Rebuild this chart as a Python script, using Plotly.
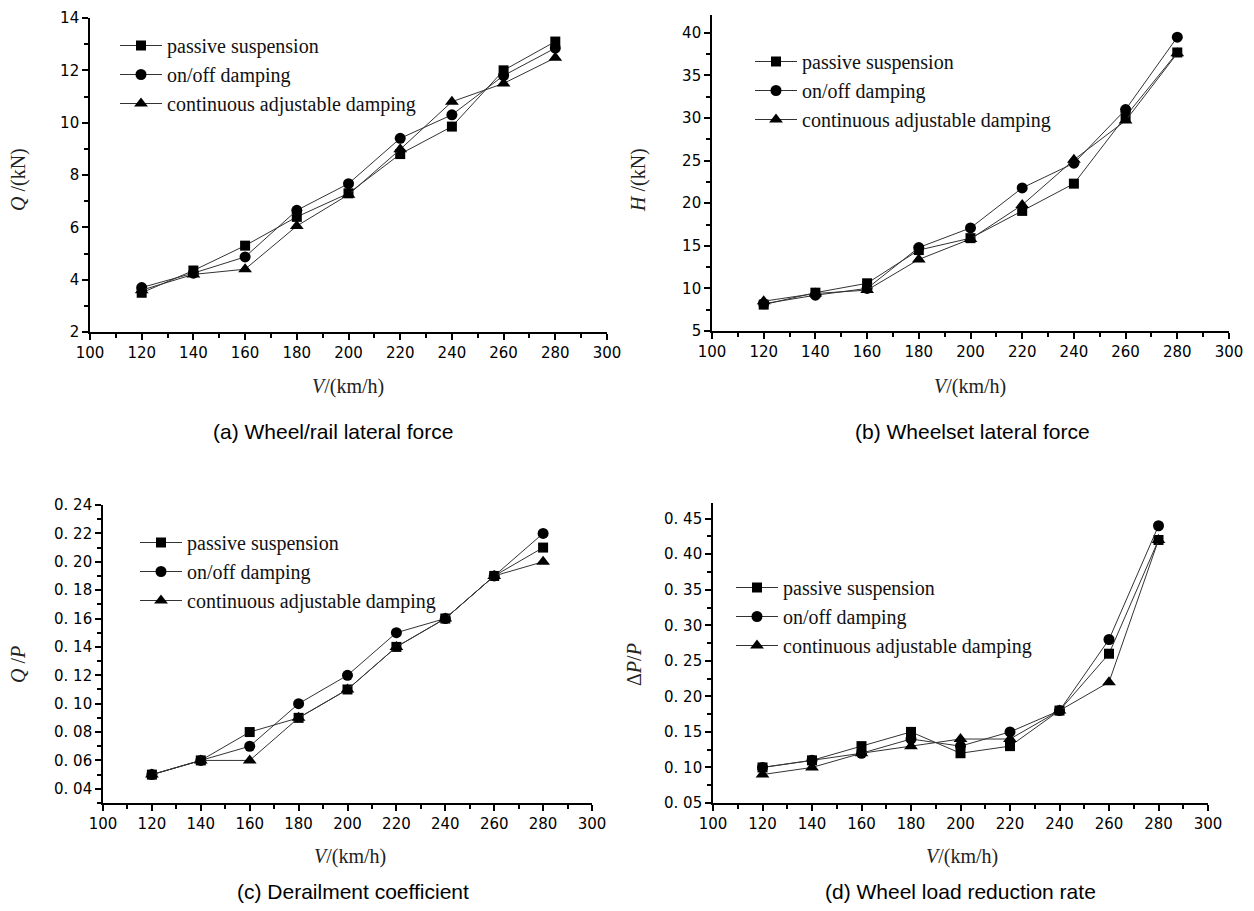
import plotly.graph_objects as go

# ---------------- data ----------------
speeds = [120, 140, 160, 180, 200, 220, 240, 260, 280]
series_names = ["passive suspension", "on/off damping", "continuous adjustable damping"]

a_passive = [3.5, 4.35, 5.3, 6.4, 7.3, 8.8, 9.85, 12.0, 13.1]
a_onoff = [3.7, 4.25, 4.87, 6.65, 7.67, 9.4, 10.3, 11.8, 12.85]
a_cont = [3.6, 4.2, 4.4, 6.05, 7.25, 8.98, 10.8, 11.5, 12.48]

b_passive = [8.1, 9.5, 10.6, 14.5, 15.9, 19.1, 22.3, 30.2, 37.7]
b_onoff = [8.2, 9.2, 10.0, 14.8, 17.1, 21.8, 24.7, 31.0, 39.5]
b_cont = [8.5, 9.4, 9.8, 13.4, 15.8, 19.8, 25.1, 29.7, 37.6]

c_passive = [0.05, 0.06, 0.08, 0.09, 0.11, 0.14, 0.16, 0.19, 0.21]
c_onoff = [0.05, 0.06, 0.07, 0.10, 0.12, 0.15, 0.16, 0.19, 0.22]
c_cont = [0.05, 0.06, 0.06, 0.09, 0.11, 0.14, 0.16, 0.19, 0.20]

d_passive = [0.10, 0.11, 0.13, 0.15, 0.12, 0.13, 0.18, 0.26, 0.42]
d_onoff = [0.10, 0.11, 0.12, 0.14, 0.13, 0.15, 0.18, 0.28, 0.44]
d_cont = [0.09, 0.10, 0.12, 0.13, 0.14, 0.14, 0.18, 0.22, 0.42]

x_ticks = [100, 120, 140, 160, 180, 200, 220, 240, 260, 280, 300]
a_ticks = [2, 4, 6, 8, 10, 12, 14]
b_ticks = [5, 10, 15, 20, 25, 30, 35, 40]
c_ticks = [0.04, 0.06, 0.08, 0.10, 0.12, 0.14, 0.16, 0.18, 0.20, 0.22, 0.24]
c_ticktext = ["0. 04", "0. 06", "0. 08", "0. 10", "0. 12", "0. 14", "0. 16", "0. 18", "0. 20", "0. 22", "0. 24"]
d_ticks = [0.05, 0.10, 0.15, 0.20, 0.25, 0.30, 0.35, 0.40, 0.45]
d_ticktext = ["0. 05", "0. 10", "0. 15", "0. 20", "0. 25", "0. 30", "0. 35", "0. 40", "0. 45"]

y_titles = ["<i>Q</i> /(kN)", "<i>H</i> /(kN)", "<i>Q</i> /<i>P</i>", "Δ<i>P</i>/<i>P</i>"]
x_title = "<i>V</i>/(km/h)"
captions = ["(a) Wheel/rail lateral force", "(b) Wheelset lateral force",
            "(c) Derailment coefficient", "(d) Wheel load reduction rate"]

# ---------------- layout helpers ----------------
# the page body has an 8px margin, so the figure is drawn at (8, 8) in the window
OFF = 8
W, H = 1254 - 2 * OFF, 911 - 2 * OFF


def px_x(p):
    return (p - OFF) / W


def px_y(p):
    return 1 - (p - OFF) / H


panels = [
    dict(vals=[a_passive, a_onoff, a_cont], xd=(90, 607), yd=(18, 332), yr=(2, 14),
         ytv=a_ticks, ytt=[str(v) for v in a_ticks], ymin=1, leg=(115, 26),
         ytitle=(18, 180), xtitle=(348, 386), cap=(333, 431)),
    dict(vals=[b_passive, b_onoff, b_cont], xd=(712, 1229), yd=(15, 331), yr=(5, 42.1),
         ytv=b_ticks, ytt=[str(v) for v in b_ticks], ymin=2.5, leg=(750, 42),
         ytitle=(638, 180), xtitle=(970, 386), cap=(972, 431)),
    dict(vals=[c_passive, c_onoff, c_cont], xd=(103, 592), yd=(505, 803), yr=(0.03, 0.24),
         ytv=c_ticks, ytt=c_ticktext, ymin=0.01, leg=(135, 523),
         ytitle=(18, 665), xtitle=(350, 856), cap=(353, 891)),
    dict(vals=[d_passive, d_onoff, d_cont], xd=(713, 1208), yd=(503, 803), yr=(0.05, 0.472),
         ytv=d_ticks, ytt=d_ticktext, ymin=0.025, leg=(731, 568),
         ytitle=(634, 665), xtitle=(962, 856), cap=(960, 891)),
]

symbols = ["square", "circle", "triangle-up"]
sizes = [10, 11, 12]

fig = go.Figure()
annotations = []
tick_font = dict(family="DejaVu Sans", size=15, color="black")
serif = "Liberation Serif, Times New Roman, serif"

for i, p in enumerate(panels):
    n = "" if i == 0 else str(i + 1)
    legname = "legend" if i == 0 else f"legend{i + 1}"
    for k in range(3):
        fig.add_trace(go.Scatter(
            x=speeds, y=p["vals"][k], name=series_names[k], mode="lines+markers",
            xaxis="x" + n, yaxis="y" + n, legend=legname,
            line=dict(color="#333333", width=1),
            marker=dict(symbol=symbols[k], size=sizes[k], color="black"),
        ))
    common = dict(showline=True, linecolor="black", linewidth=1.6, ticks="outside",
                  ticklen=6, tickwidth=1.5, tickcolor="black", showgrid=False,
                  zeroline=False, mirror=False, tickfont=tick_font, automargin=False,
                  ticklabeloverflow="allow")
    fig.update_layout(**{
        "xaxis" + n: dict(domain=[px_x(p["xd"][0]), px_x(p["xd"][1])], range=[100, 300],
                          anchor="y" + n, tickmode="array", tickvals=x_ticks,
                          minor=dict(ticks="outside", ticklen=4, tickwidth=1.5,
                                     tickcolor="black", tick0=100, dtick=10),
                          **common),
        "yaxis" + n: dict(domain=[px_y(p["yd"][1]), px_y(p["yd"][0])], range=list(p["yr"]),
                          anchor="x" + n, tickmode="array", tickvals=p["ytv"],
                          ticktext=p["ytt"],
                          minor=dict(ticks="outside", ticklen=4, tickwidth=1.5,
                                     tickcolor="black", tick0=p["ytv"][0], dtick=p["ymin"]),
                          **common),
        legname: dict(x=px_x(p["leg"][0]), y=px_y(p["leg"][1]), xanchor="left", yanchor="top",
                      xref="paper", yref="paper", bgcolor="rgba(0,0,0,0)",
                      font=dict(family=serif, size=20, color="#111111"),
                      itemwidth=42, tracegroupgap=0),
    })
    annotations.append(dict(text=y_titles[i], x=px_x(p["ytitle"][0]), y=px_y(p["ytitle"][1]),
                            xref="paper", yref="paper", showarrow=False, textangle=-90,
                            font=dict(family=serif, size=20, color="#222222"),
                            xanchor="center", yanchor="middle"))
    annotations.append(dict(text=x_title, x=px_x(p["xtitle"][0]), y=px_y(p["xtitle"][1]),
                            xref="paper", yref="paper", showarrow=False,
                            font=dict(family=serif, size=20, color="#222222"),
                            xanchor="center", yanchor="middle"))
    annotations.append(dict(text=captions[i], x=px_x(p["cap"][0]), y=px_y(p["cap"][1]),
                            xref="paper", yref="paper", showarrow=False,
                            font=dict(family="Liberation Sans, Arial, sans-serif", size=21,
                                      color="black"),
                            xanchor="center", yanchor="middle"))

fig.update_layout(template="none", width=W, height=H, margin=dict(l=0, r=0, t=0, b=0),
                  paper_bgcolor="white", plot_bgcolor="white",
                  showlegend=True, annotations=annotations)

fig.write_html("out.html")
